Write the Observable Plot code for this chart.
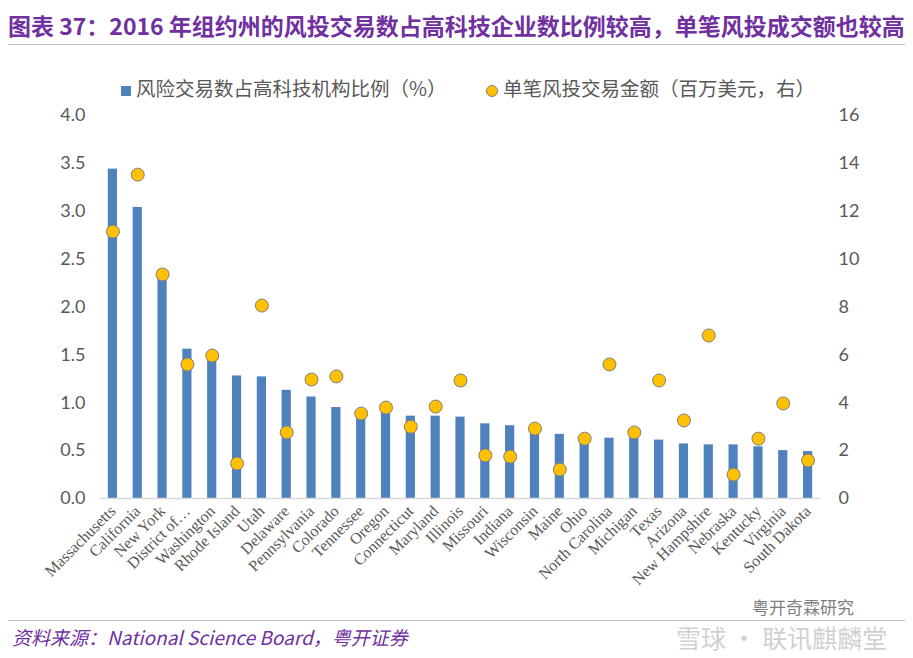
<!DOCTYPE html>
<html>
<head>
<meta charset="utf-8">
<script src="https://cdn.jsdelivr.net/npm/d3@7"></script>
<script src="https://cdn.jsdelivr.net/npm/@observablehq/plot@0.6"></script>
<style>
  body { margin: 0; background: #fff; }
  #wrap { position: relative; width: 913px; height: 658px; overflow: hidden; background: #fff; font-family: "Noto Sans CJK SC", "Noto Sans", sans-serif; }
  #title { position: absolute; left: 8px; top: 8px; font-size: 23px; font-weight: bold; color: #7030a0; white-space: nowrap; letter-spacing: 0px; }
  .hline { position: absolute; left: 8px; width: 897px; height: 1px; background: #bfbfbf; }
  #legend { position: absolute; top: 74px; left: 0; width: 913px; height: 28px; font-size: 19.5px; color: #595959; }
  .lg { position: absolute; top: 0; white-space: nowrap; line-height: 28px; }
  .sw { display: inline-block; vertical-align: middle; margin-right: 5px; }
  #chart { position: absolute; left: 0; top: 100px; }
  #caption { position: absolute; left: 12px; top: 623px; font-size: 19px; font-style: italic; color: #7030a0; white-space: nowrap; }
  #wm1 { position: absolute; left: 752px; top: 597px; font-size: 17px; color: #555; opacity: 0.75; white-space: nowrap; line-height: 20px; }
  #wm2 { position: absolute; left: 676px; top: 622px; font-size: 25px; color: #999; opacity: 0.45; white-space: nowrap; line-height: 30px; }
</style>
</head>
<body>
<div id="wrap">
  <div id="title">图表 37：2016 年组约州的风投交易数占高科技企业数比例较高，单笔风投成交额也较高</div>
  <div class="hline" style="top:44px"></div>
  <div id="legend"></div>
  <div id="chart"></div>
  <div class="hline" style="top:620px"></div>
  <div id="caption">资料来源：National Science Board，粤开证券</div>
  <div id="wm1">粤开奇霖研究</div>
  <div id="wm2">雪球 · 联讯麒麟堂</div>
</div>
<script>
// ---- data ----
const states = ["Massachusetts","California","New York","District of…","Washington","Rhode Island","Utah","Delaware","Pennsylvania","Colorado","Tennessee","Oregon","Connecticut","Maryland","Illinois","Missouri","Indiana","Wisconsin","Maine","Ohio","North Carolina","Michigan","Texas","Arizona","New Hampshire","Nebraska","Kentucky","Virginia","South Dakota"];
const vcShare = [3.44,3.04,2.36,1.56,1.51,1.28,1.27,1.13,1.06,0.95,0.90,0.93,0.86,0.86,0.85,0.78,0.76,0.73,0.67,0.63,0.63,0.64,0.61,0.57,0.56,0.56,0.54,0.50,0.49];
const dealSize = [11.15,13.53,9.36,5.6,5.97,1.46,8.06,2.76,4.97,5.1,3.55,3.8,3.0,3.84,4.93,1.8,1.75,2.92,1.21,2.5,5.6,2.76,4.93,3.26,6.81,1.0,2.5,3.97,1.59];
const leftTicks = [0,0.5,1.0,1.5,2.0,2.5,3.0,3.5,4.0];
const rightTicks = [0,2,4,6,8,10,12,14,16];
const seriesNames = ["风险交易数占高科技机构比例（%）","单笔风投交易金额（百万美元，右）"];

const barColor = "#4f81bd";
const dotColor = "#ffc000";
const ratio = leftTicks[leftTicks.length-1] / rightTicks[rightTicks.length-1];

const data = states.map((s, i) => ({state: s, share: vcShare[i], size: dealSize[i]}));

// legend
const legend = document.getElementById("legend");
legend.innerHTML =
  `<div class="lg" style="left:121px"><span class="sw" style="width:10px;height:10px;background:${barColor}"></span>${seriesNames[0]}</div>` +
  `<div class="lg" style="left:486px"><span class="sw" style="width:10px;height:10px;border-radius:50%;background:${dotColor};border:1px solid #7f7f7f"></span>${seriesNames[1]}</div>`;

const numFont = "Lato, 'Noto Sans', sans-serif";
const chart = Plot.plot({
  width: 913,
  height: 510,
  marginLeft: 100,
  marginRight: 93,
  marginTop: 15,
  marginBottom: 112,
  x: {domain: states, paddingInner: 0.63, paddingOuter: 0.315, round: false, label: null},
  y: {domain: [0, 4], label: null},
  style: {background: "transparent", overflow: "visible"},
  marks: [
    Plot.barY(data, {x: "state", y: "share", fill: barColor}),
    Plot.ruleY([0], {stroke: "#d9d9d9", strokeWidth: 1.5}),
    Plot.dot(data, {x: "state", y: d => d.size * ratio, r: 6.5, fill: dotColor, stroke: "#7f7f7f", strokeWidth: 1}),
    Plot.axisY({anchor: "left", ticks: leftTicks, tickFormat: d => d.toFixed(1), tickSize: 0, tickPadding: 15, fontSize: 18, fontFamily: numFont, color: "#595959", label: null}),
    Plot.axisY({anchor: "right", ticks: rightTicks.map(v => v * ratio), tickFormat: d => String(Math.round(d / ratio)), tickSize: 0, tickPadding: 18, fontSize: 18, fontFamily: numFont, color: "#595959", label: null}),
    Plot.axisX({tickRotate: -45, tickSize: 0, tickPadding: 10, fontSize: 16, fontFamily: "'Liberation Serif', serif", color: "#595959", label: null})
  ]
});
document.getElementById("chart").appendChild(chart);
</script>
</body>
</html>
